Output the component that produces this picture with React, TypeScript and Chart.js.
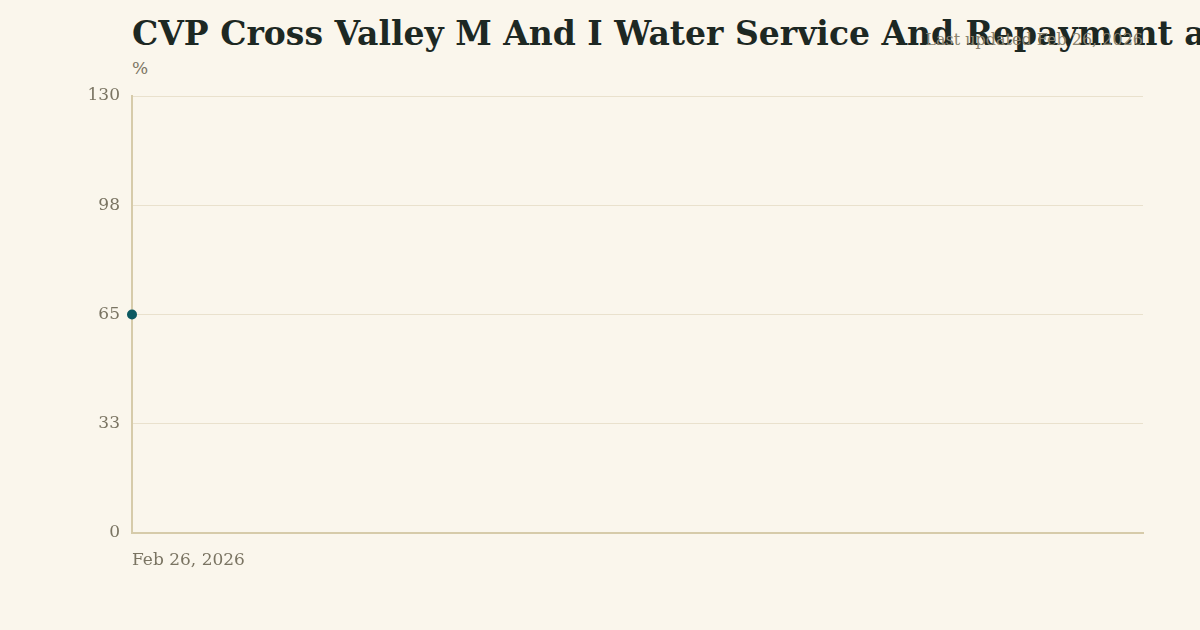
import React, { useEffect, useRef } from 'react';
import { Chart, registerables } from 'chart.js';

Chart.register(...registerables);

const dates = ['Feb 26, 2026'];
const percentValues = [65];
const yTicks = [0, 32.5, 65, 97.5, 130];

const TITLE = 'CVP Cross Valley M And I Water Service And Repayment a';
const UPDATED = 'Last updated Feb 26, 2026';
const FONT = "Georgia, 'DejaVu Serif', serif";

const App: React.FC = () => {
  const chartRef = useRef<HTMLCanvasElement>(null);
  const chartInstance = useRef<Chart | null>(null);

  useEffect(() => {
    document.body.style.margin = '0';
    if (chartInstance.current) {
      chartInstance.current.destroy();
    }
    if (chartRef.current) {
      const ctx = chartRef.current.getContext('2d');
      if (ctx) {
        chartInstance.current = new Chart(ctx, {
          type: 'line',
          data: {
            labels: dates,
            datasets: [
              {
                label: '%',
                data: percentValues,
                borderColor: '#0c5a62',
                backgroundColor: '#0c5a62',
                pointRadius: 5,
                pointBorderWidth: 0,
                borderWidth: 2,
              },
            ],
          },
          options: {
            responsive: false,
            animation: false,
            layout: { padding: { top: 96, right: 57, bottom: 0, left: 0 } },
            plugins: {
              legend: { display: false },
              title: { display: false },
              tooltip: { enabled: false },
            },
            scales: {
              x: {
                type: 'category',
                offset: false,
                grid: { display: false, drawTicks: false },
                border: { color: '#d6cbaa', width: 2 },
                ticks: {
                  align: 'start',
                  color: '#7a7462',
                  font: { family: FONT, size: 17 },
                  padding: 17,
                  maxRotation: 0,
                },
                afterFit: (scale: any) => {
                  scale.height = 97;
                },
              },
              y: {
                min: 0,
                max: 130,
                afterBuildTicks: (scale: any) => {
                  scale.ticks = yTicks.map((v) => ({ value: v }));
                },
                grid: { color: '#e9e1cd', drawTicks: false, lineWidth: 1 },
                border: { color: '#d6cbaa', width: 2 },
                ticks: {
                  color: '#7a7462',
                  font: { family: FONT, size: 17 },
                  padding: 12,
                  callback: (v: any) => String(Math.round(Number(v))),
                },
                afterFit: (scale: any) => {
                  scale.width = 132;
                },
              },
            },
          },
        });
      }
    }
    return () => {
      if (chartInstance.current) {
        chartInstance.current.destroy();
        chartInstance.current = null;
      }
    };
  }, []);

  return (
    <div
      style={{
        position: 'relative',
        width: 1200,
        height: 630,
        overflow: 'hidden',
        background: '#faf6ec',
        fontFamily: FONT,
      }}
    >
      <div
        style={{
          position: 'absolute',
          left: 132,
          top: 12,
          fontSize: 33,
          fontWeight: 'bold',
          color: '#1d2823',
          whiteSpace: 'nowrap',
          lineHeight: '44px',
        }}
      >
        {TITLE}
      </div>
      <div
        style={{
          position: 'absolute',
          right: 57,
          top: 30,
          fontSize: 16,
          color: '#8a836f',
          whiteSpace: 'nowrap',
          lineHeight: '20px',
        }}
      >
        {UPDATED}
      </div>
      <div
        style={{
          position: 'absolute',
          left: 132,
          top: 57,
          fontSize: 17,
          color: '#7a7462',
          lineHeight: '22px',
        }}
      >
        %
      </div>
      <canvas
        ref={chartRef}
        width={1200}
        height={630}
        style={{ position: 'absolute', left: 0, top: 0 }}
      ></canvas>
    </div>
  );
};

export default App;
